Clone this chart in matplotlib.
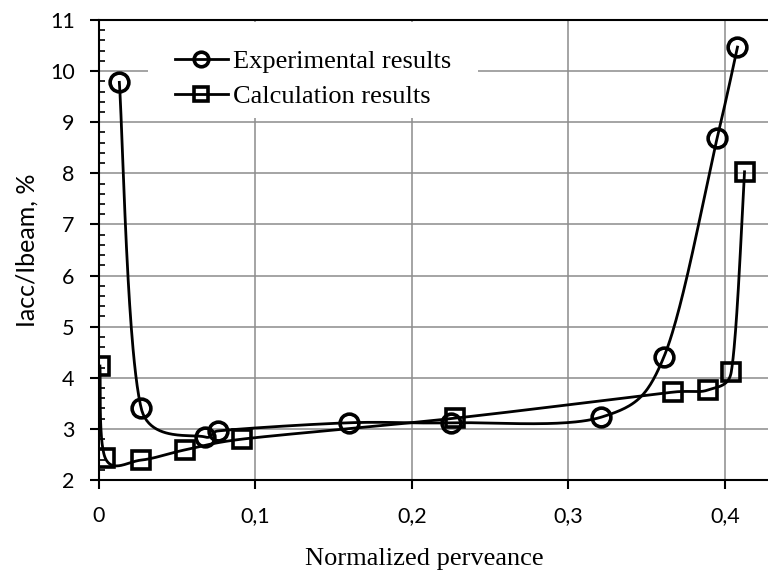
import matplotlib
matplotlib.use("Agg")
import matplotlib.pyplot as plt
from matplotlib.ticker import MultipleLocator, FuncFormatter
from matplotlib.patches import Rectangle
import numpy as np

# values
exp_x = [0.013, 0.027, 0.068, 0.076, 0.160, 0.225, 0.321, 0.361, 0.395, 0.408]
exp_y = [9.78, 3.40, 2.84, 2.96, 3.12, 3.12, 3.23, 4.41, 8.69, 10.47]
calc_x = [0.0006, 0.004, 0.027, 0.055, 0.0915, 0.2275, 0.367, 0.389, 0.404, 0.4125]
calc_y = [4.23, 2.43, 2.39, 2.59, 2.80, 3.21, 3.72, 3.76, 4.11, 8.03]

exp_label = "Experimental results"
calc_label = "Calculation results"

XMAX = 0.4275
YMIN, YMAX = 2, 11
W, H = 768, 575
AX_L, AX_B, AX_T = 99, 480, 20


def smooth(xs, ys, n=50):
    # Excel-like smoothed line: catmull-rom arms (1/6), clamped to half the segment
    sx = (W - AX_L) / XMAX
    sy = (AX_B - AX_T) / (YMAX - YMIN)
    p = np.column_stack([np.array(xs) * sx, np.array(ys) * sy])
    p = np.vstack([p[0], p, p[-1]])
    out = []
    for i in range(1, len(p) - 2):
        p0, p1, p2, p3 = p[i - 1], p[i], p[i + 1], p[i + 2]
        d12 = np.hypot(*(p2 - p1))
        a1 = (p2 - p0) / 6.0
        a2 = (p3 - p1) / 6.0
        l1, l2 = np.hypot(*a1), np.hypot(*a2)
        if l1 > d12 / 2:
            a1 = a1 * (d12 / 2) / l1
        if l2 > d12 / 2:
            a2 = a2 * (d12 / 2) / l2
        c1 = p1 + a1
        c2 = p2 - a2
        t = np.linspace(0, 1, n)[:, None]
        seg = ((1 - t) ** 3) * p1 + 3 * ((1 - t) ** 2) * t * c1 + 3 * (1 - t) * t ** 2 * c2 + t ** 3 * p2
        out.append(seg)
    out = np.vstack(out)
    return out[:, 0] / sx, out[:, 1] / sy


fig = plt.figure(figsize=(W / 100, H / 100), dpi=100)
ax = fig.add_axes([AX_L / W, 1 - AX_B / H, 1 - AX_L / W, (AX_B - AX_T) / H])

lw = 2.0
for xs, ys, mk, ms in [(exp_x, exp_y, "o", 13.5), (calc_x, calc_y, "s", 12.5)]:
    sx_, sy_ = smooth(xs, ys)
    ax.plot(sx_, sy_, color="black", lw=lw, zorder=3)
    ax.plot(xs, ys, ls="none", marker=mk, ms=ms, mfc="none", mec="black", mew=2.6, zorder=4)

ax.set_xlim(0, XMAX)
ax.set_ylim(YMIN, YMAX)
ax.xaxis.set_major_locator(MultipleLocator(0.1))
ax.yaxis.set_major_locator(MultipleLocator(1))
ax.yaxis.set_minor_locator(MultipleLocator(0.2))
ax.xaxis.set_major_formatter(FuncFormatter(lambda v, p: ("%g" % round(v, 2)).replace(".", ",")))
ax.yaxis.set_major_formatter(FuncFormatter(lambda v, p: "%d" % v))

ax.grid(True, which="major", color="#8c8c8c", lw=1.1)
ax.set_axisbelow(True)
for s in ["left", "bottom", "top"]:
    ax.spines[s].set_linewidth(1.5)
ax.spines["right"].set_visible(False)

ax.tick_params(axis="both", which="major", direction="out", length=6.5, width=1.5,
               labelsize=15.5, labelfontfamily="Lato")
ax.tick_params(axis="y", which="major", pad=11)
ax.tick_params(axis="x", which="major", pad=12)
ax.tick_params(axis="y", which="minor", direction="in", length=4.5, width=1.2)

ax.set_ylabel("Iacc/Ibeam, %", fontfamily="Lato", fontsize=18, labelpad=8)
ax.set_xlabel("Normalized perveance", fontfamily="Liberation Serif", fontsize=19, labelpad=16)
ax.xaxis.label.set_x(0.486)

# white box behind the legend, hides the grid there
ax.add_patch(Rectangle((148 / W, 1 - 118 / H), 330 / W, 96 / H, transform=fig.transFigure,
                       facecolor="white", edgecolor="none", zorder=1))

# legend handles
h1, = ax.plot([], [], color="black", lw=lw, marker="o", ms=10.5, mfc="none", mew=2.6)
h2, = ax.plot([], [], color="black", lw=lw, marker="s", ms=10, mfc="none", mew=2.6)
leg = ax.legend([h1, h2], [exp_label, calc_label], loc="upper left",
                bbox_to_anchor=(175 / W, 1 - 50 / H), bbox_transform=fig.transFigure,
                prop={"family": "Liberation Serif", "size": 19}, frameon=False,
                handlelength=2.0, handletextpad=0.2, borderpad=0, borderaxespad=0,
                labelspacing=0.42)

fig.savefig("out.png", dpi=100)
